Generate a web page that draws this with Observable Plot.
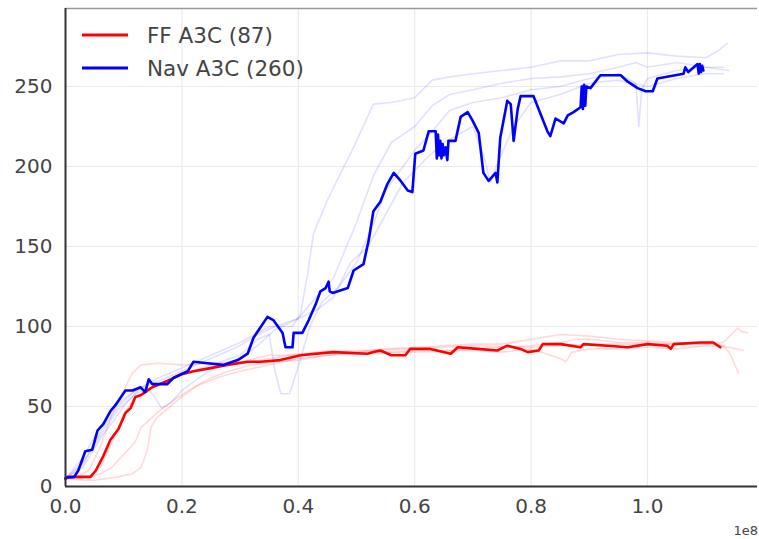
<!DOCTYPE html>
<html><head><meta charset="utf-8">
<script src="https://cdn.jsdelivr.net/npm/d3@7"></script>
<script src="https://cdn.jsdelivr.net/npm/@observablehq/plot@0.6"></script>
<style>body{margin:0;background:#fff} #chart{width:759px;height:539px}</style>
</head><body><div id="chart"></div>
<script>
// x in units of 1e8 steps, y = score
const xTicks = [0, 0.2, 0.4, 0.6, 0.8, 1.0];
const yTicks = [0, 50, 100, 150, 200, 250];
const seriesNames = ["FF A3C (87)", "Nav A3C (260)"];

const navMean = [[0,5],[0.003,5.6],[0.015,6],[0.022,10],[0.034,22],[0.046,23],[0.055,35],[0.065,39],[0.077,47],[0.086,51],[0.103,60],[0.115,60],[0.129,62],[0.137,59],[0.143,67],[0.149,64],[0.175,64],[0.186,68],[0.210,72],[0.220,78],[0.244,77],[0.271,76],[0.296,79],[0.313,83],[0.323,93],[0.347,106],[0.357,104],[0.373,96],[0.378,87],[0.390,87],[0.392,96],[0.407,96],[0.418,104],[0.430,114],[0.438,122],[0.447,124],[0.452,128],[0.454,122],[0.459,121],[0.485,124],[0.495,135],[0.512,139],[0.521,154],[0.529,172],[0.541,178],[0.553,189],[0.564,196],[0.576,191],[0.588,185],[0.596,184],[0.601,208],[0.615,210],[0.624,222],[0.636,222],[0.638,205],[0.640,220],[0.642,207],[0.644,216],[0.646,205],[0.648,214],[0.650,207],[0.653,212],[0.656,204],[0.658,216],[0.670,216],[0.679,231],[0.691,234],[0.699,229],[0.710,221],[0.718,196],[0.727,191],[0.739,196],[0.742,190],[0.747,218],[0.759,241],[0.765,239],[0.770,216],[0.777,236],[0.782,244],[0.804,244],[0.828,222],[0.833,219],[0.842,230],[0.856,227],[0.863,232],[0.873,234],[0.885,237],[0.887,250],[0.889,236],[0.891,251],[0.893,238],[0.895,250],[0.902,249],[0.919,257],[0.954,257],[0.966,253],[0.983,249],[0.997,247],[1.009,247],[1.017,255],[1.062,258],[1.065,262],[1.070,259],[1.086,264],[1.088,258],[1.090,264],[1.092,259],[1.094,263],[1.096,260]];

const ffMean = [[0,5],[0.003,6],[0.043,6],[0.052,10],[0.065,19],[0.077,29],[0.091,36],[0.103,46],[0.112,49],[0.120,56],[0.129,57],[0.137,59],[0.149,62],[0.175,66],[0.198,70],[0.220,72],[0.249,74],[0.278,76],[0.313,78],[0.335,78],[0.369,79],[0.404,82],[0.460,84],[0.519,83],[0.529,84],[0.541,85],[0.560,82],[0.584,82],[0.592,86],[0.627,86],[0.662,83],[0.674,87],[0.708,86],[0.742,85],[0.759,88],[0.782,86],[0.794,84],[0.813,85],[0.820,89],[0.851,89],[0.885,87],[0.890,89],[0.931,88],[0.966,87],[1.000,89],[1.034,88],[1.040,86],[1.045,89],[1.091,90],[1.113,90],[1.125,87]];

const navRun1 = [[0,5],[0.03,18],[0.06,38],[0.09,52],[0.12,60],[0.16,68],[0.2,74],[0.25,82],[0.3,90],[0.35,100],[0.39,100],[0.404,108],[0.416,133],[0.426,158],[0.45,179],[0.473,196],[0.495,212],[0.519,231],[0.529,239],[0.56,240],[0.6,243],[0.63,254],[0.66,256],[0.7,258],[0.75,260],[0.8,262],[0.85,266],[0.9,266],[0.95,270],[1.0,271],[1.05,269],[1.1,268],[1.12,272],[1.137,277]];
const navRun2 = [[0,5],[0.03,12],[0.06,30],[0.1,50],[0.13,62],[0.16,66],[0.2,72],[0.25,80],[0.3,88],[0.33,95],[0.36,100],[0.4,105],[0.43,118],[0.46,130],[0.5,165],[0.53,195],[0.56,215],[0.6,225],[0.63,238],[0.66,245],[0.7,248],[0.75,252],[0.8,255],[0.85,256],[0.9,258],[0.95,262],[0.98,265],[1.0,262],[1.05,265],[1.1,262],[1.14,260]];
const navRun3 = [[0,5],[0.03,15],[0.06,32],[0.09,48],[0.12,58],[0.15,62],[0.2,70],[0.25,76],[0.3,82],[0.33,92],[0.35,95],[0.36,72],[0.37,58],[0.385,58],[0.4,75],[0.42,100],[0.44,115],[0.47,125],[0.5,140],[0.53,165],[0.55,185],[0.58,200],[0.6,210],[0.63,222],[0.66,235],[0.7,240],[0.75,243],[0.8,248],[0.85,250],[0.9,255],[0.95,258],[0.98,252],[0.985,225],[0.99,248],[1.0,255],[1.05,260],[1.1,262],[1.13,262]];
const navRun4 = [[0,5],[0.03,14],[0.06,34],[0.09,50],[0.12,60],[0.14,62],[0.155,55],[0.165,49],[0.18,52],[0.2,60],[0.23,68],[0.26,75],[0.3,80],[0.33,88],[0.36,98],[0.4,105],[0.43,110],[0.46,118],[0.49,140],[0.52,150],[0.55,170],[0.58,190],[0.62,205],[0.65,215],[0.7,225],[0.72,205],[0.73,190],[0.74,200],[0.77,225],[0.8,240],[0.85,245],[0.9,252],[0.95,254],[1.0,250],[1.05,255],[1.1,258],[1.13,258]];

const ffRun1 = [[0,5],[0.03,4],[0.05,4],[0.07,5],[0.09,6],[0.115,8],[0.13,12],[0.14,22],[0.147,37],[0.157,43],[0.17,47],[0.2,56],[0.23,64],[0.25,68],[0.28,72],[0.32,76],[0.36,78],[0.4,79],[0.45,82],[0.5,84],[0.55,84],[0.6,85],[0.65,85],[0.7,86],[0.75,87],[0.8,88],[0.85,90],[0.88,92],[0.9,92],[0.95,90],[1.0,90],[1.05,89],[1.1,90],[1.13,88],[1.14,84],[1.148,78],[1.156,71]];
const ffRun2 = [[0,5],[0.02,6],[0.04,10],[0.06,25],[0.08,45],[0.1,60],[0.115,71],[0.13,76],[0.16,77],[0.2,76],[0.25,77],[0.3,78],[0.35,82],[0.4,82],[0.45,85],[0.5,84],[0.55,86],[0.6,87],[0.65,88],[0.7,89],[0.75,89],[0.8,92],[0.85,95],[0.9,94],[0.95,92],[1.0,91],[1.05,90],[1.1,89],[1.13,90],[1.155,99],[1.16,97],[1.172,96]];
const ffRun3 = [[0,5],[0.03,5],[0.06,8],[0.08,12],[0.1,20],[0.12,28],[0.13,37],[0.16,47],[0.19,55],[0.22,62],[0.26,68],[0.3,72],[0.35,76],[0.4,80],[0.45,82],[0.5,83],[0.6,84],[0.7,85],[0.75,84],[0.8,86],[0.85,80],[0.86,78],[0.87,84],[0.9,86],[0.95,86],[1.0,87],[1.05,86],[1.1,88],[1.14,87],[1.165,85]];
const ffRun4 = [[0,5],[0.04,6],[0.06,12],[0.08,28],[0.1,45],[0.12,56],[0.15,62],[0.2,70],[0.25,74],[0.3,77],[0.35,80],[0.4,83],[0.5,85],[0.6,86],[0.7,88],[0.8,87],[0.9,89],[1.0,89],[1.1,89],[1.13,88]];

function toRows(arr, series, run) { return arr.map(([x, y]) => ({x, y, series, run})); }
const faintNav = [navRun1, navRun2, navRun3, navRun4].flatMap((a, i) => toRows(a, "nav", "nav" + i));
const faintFF = [ffRun1, ffRun2, ffRun3, ffRun4].flatMap((a, i) => toRows(a, "ff", "ff" + i));
const meanNav = toRows(navMean, "nav", "navMean");
const meanFF = toRows(ffMean, "ff", "ffMean");

const yMax = 298.75;
const plot = Plot.plot({
  width: 759, height: 539,
  marginLeft: 65, marginRight: 2, marginTop: 8, marginBottom: 53,
  style: {fontFamily: "DejaVu Sans, sans-serif", fontSize: "20px", background: "#fff", overflow: "visible"},
  x: {domain: [0, 1.189], label: null},
  y: {domain: [0, yMax], label: null},
  marks: [
    Plot.gridX(xTicks.filter(d => d > 0), {stroke: "#ebebeb", strokeOpacity: 1, strokeWidth: 1.2}),
    Plot.gridY(yTicks.filter(d => d > 0), {stroke: "#ebebeb", strokeOpacity: 1, strokeWidth: 1.2}),
    Plot.line(faintFF, {x: "x", y: "y", z: "run", stroke: "#ff0000", strokeOpacity: 0.15, strokeWidth: 1.6}),
    Plot.line(faintNav, {x: "x", y: "y", z: "run", stroke: "#0000ff", strokeOpacity: 0.12, strokeWidth: 1.6}),
    Plot.line(meanFF, {x: "x", y: "y", stroke: "#ff0000", strokeWidth: 2.6, strokeLinejoin: "round"}),
    Plot.line(meanNav, {x: "x", y: "y", stroke: "#0000ff", strokeWidth: 2.6, strokeLinejoin: "round"}),
    Plot.axisX(xTicks, {tickSize: 0, tickPadding: 12, tickFormat: d3.format(".1f"), fontSize: 20, color: "#444", label: null}),
    Plot.axisY(yTicks, {tickSize: 0, tickPadding: 13, fontSize: 20, color: "#444", label: null}),
    Plot.ruleY([yMax], {stroke: "#999", strokeWidth: 1.5}),
    Plot.ruleX([0], {stroke: "#333", strokeWidth: 2}),
    Plot.ruleY([0], {stroke: "#333", strokeWidth: 2})
  ]
});

// legend and offset label
const svg = d3.select(plot);
const legendColors = ["#ff0000", "#0000ff"];
seriesNames.forEach((name, i) => {
  const cy = 35 + i * 33;
  svg.append("line").attr("x1", 82).attr("x2", 128).attr("y1", cy).attr("y2", cy)
    .attr("stroke", legendColors[i]).attr("stroke-width", 3);
  svg.append("text").attr("x", 147).attr("y", cy).attr("dy", "0.36em")
    .attr("text-anchor", "start").attr("fill", "#444").attr("font-size", 21.5).text(name);
});
svg.append("text").attr("x", 758).attr("y", 530).attr("dy", "0.36em").attr("text-anchor", "end")
  .attr("fill", "#444").attr("font-size", 13).text("1e8");

document.getElementById("chart").appendChild(plot);
</script>
</body></html>
